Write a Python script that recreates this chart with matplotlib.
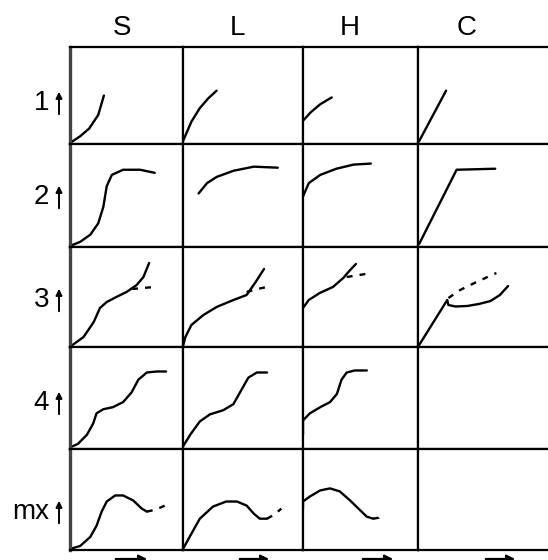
import matplotlib.pyplot as plt
from matplotlib.patches import FancyArrowPatch

W, H = 548, 560
fig = plt.figure(figsize=(W / 100, H / 100), dpi=100)
plt.rcParams['font.family'] = ['Liberation Sans', 'DejaVu Sans']

col_titles = ['S', 'L', 'H', 'C']
row_labels = ['1', '2', '3', '4', 'mx']

# grid in image pixels (the C column runs off the right edge)
col_edges = [70, 183, 303, 418, 566]
row_edges = [47, 144, 247, 347, 449, 550]
col_unit = [11.3, 12.0, 11.5, 11.7]   # px per x unit, y is 0..10 per row

# curves, (x, y) in cell units
s1 = ([0, 0.9, 1.7, 2.5, 3.0], [0.1, 0.8, 1.6, 3.0, 5.0])
l1 = ([0, 0.7, 1.4, 2.1, 2.8], [0.3, 2.3, 3.7, 4.7, 5.5])
h1 = ([0, 0.7, 1.5, 2.5], [2.4, 3.3, 4.1, 4.8])
c1 = ([0.1, 2.4], [0.3, 5.5])

s2 = ([0, 0.9, 1.8, 2.5, 2.95, 3.25, 3.7, 4.7, 6.2, 7.5],
      [0.1, 0.5, 1.2, 2.3, 3.9, 5.9, 7.0, 7.5, 7.5, 7.2])
l2 = ([1.3, 2.0, 2.8, 4.2, 5.9, 7.9], [5.2, 6.2, 6.8, 7.4, 7.8, 7.7])
h2 = ([0, 0.5, 1.5, 2.9, 4.4, 5.9], [4.9, 6.2, 7.0, 7.6, 8.0, 8.1])
c2 = ([0.1, 3.3, 6.6], [0.3, 7.5, 7.6])

s3 = ([0.1, 1.2, 2.1, 2.65, 3.25, 4.1, 5.0, 5.9, 6.5, 7.0],
      [0.1, 1.0, 2.5, 3.9, 4.5, 5.0, 5.5, 6.2, 7.0, 8.4])
s3_dash = ([5.5, 6.5, 7.4], [5.8, 5.9, 6.0])
l3 = ([0, 0.2, 0.7, 1.7, 2.8, 4.2, 5.3, 6.0, 6.75],
      [0.1, 1.0, 2.2, 3.2, 4.0, 4.7, 5.2, 6.4, 7.8])
l3_dash = ([5.3, 6.2, 7.0], [5.5, 5.8, 6.0])
h3 = ([0, 0.5, 1.45, 2.6, 3.5, 4.1, 4.6], [3.9, 4.7, 5.4, 6.0, 6.9, 7.7, 8.3])
h3_dash = ([3.8, 4.9, 6.0], [7.0, 7.2, 7.4])
c3 = ([0.1, 2.5, 2.6, 3.2, 4.2, 5.2, 6.2, 7.0, 7.7],
      [0.2, 4.7, 4.2, 4.05, 4.1, 4.3, 4.6, 5.2, 6.1])
c3_dash = ([2.6, 3.6, 5.0, 6.7], [4.9, 5.7, 6.5, 7.4])

s4 = ([0, 0.7, 1.5, 2.05, 2.35, 2.95, 3.8, 4.7, 5.45, 6.05, 6.8, 7.7, 8.5],
      [0.15, 0.5, 1.4, 2.5, 3.5, 3.9, 4.1, 4.6, 5.55, 6.8, 7.5, 7.6, 7.6])
l4 = ([0, 0.6, 1.4, 2.25, 3.35, 4.2, 4.75, 5.45, 6.15, 7.0],
      [0.25, 1.4, 2.7, 3.4, 3.8, 4.4, 5.55, 7.0, 7.5, 7.5])
h4 = ([0, 0, 0.6, 1.5, 2.35, 2.95, 3.35, 3.8, 4.5, 5.55],
      [1.4, 2.8, 3.5, 4.1, 4.6, 5.4, 6.8, 7.5, 7.7, 7.7])

s5 = ([0, 0.9, 1.8, 2.35, 2.8, 3.25, 4.0, 4.7, 5.6, 6.35, 6.8],
      [0.1, 0.4, 1.3, 2.4, 3.8, 4.8, 5.4, 5.4, 4.9, 4.1, 3.8])
s5_dash = ([6.8, 7.6, 8.5], [3.8, 4.0, 4.45])
l5 = ([0, 0.6, 1.4, 2.5, 3.6, 4.5, 5.3, 5.9, 6.4, 7.0],
      [0.1, 1.4, 3.1, 4.3, 4.8, 4.8, 4.4, 3.6, 3.1, 3.1])
l5_dash = ([7.0, 7.6, 8.2], [3.1, 3.5, 4.1])
h5 = ([0, 0, 0.6, 1.5, 2.35, 3.2, 4.1, 5.0, 5.55, 6.1],
      [4.1, 4.8, 5.3, 5.9, 6.1, 5.8, 4.9, 3.9, 3.3, 3.1])
h5_dash = ([6.1, 6.6, 7.0], [3.1, 3.2, 3.6])

solid = {(0, 0): [s1], (0, 1): [l1], (0, 2): [h1], (0, 3): [c1],
         (1, 0): [s2], (1, 1): [l2], (1, 2): [h2], (1, 3): [c2],
         (2, 0): [s3], (2, 1): [l3], (2, 2): [h3], (2, 3): [c3],
         (3, 0): [s4], (3, 1): [l4], (3, 2): [h4],
         (4, 0): [s5], (4, 1): [l5], (4, 2): [h5]}
dashed = {(2, 0): [s3_dash], (2, 1): [l3_dash], (2, 2): [h3_dash],
          (2, 3): [c3_dash],
          (4, 0): [s5_dash], (4, 1): [l5_dash], (4, 2): [h5_dash]}

for r in range(5):
    for c in range(4):
        x0, x1 = col_edges[c], col_edges[c + 1]
        y0, y1 = row_edges[r], row_edges[r + 1]
        ax = fig.add_axes([x0 / W, 1 - y1 / H, (x1 - x0) / W, (y1 - y0) / H])
        ax.set_xlim(0, (x1 - x0) / col_unit[c])
        ax.set_ylim(0, 10)
        ax.set_xticks([])
        ax.set_yticks([])
        for sp in ax.spines.values():
            sp.set_linewidth(1.6)
        if c == 0:
            ax.spines['left'].set_linewidth(2.4)
            ax.spines['left'].set_color('#444444')
        for xs, ys in solid.get((r, c), []):
            ax.plot(xs, ys, color='black', lw=1.7, solid_capstyle='round')
        for xs, ys in dashed.get((r, c), []):
            ax.plot(xs, ys, color='black', lw=1.7, ls=(0, (2.5, 3)))

# column titles
title_x = [122, 237, 350, 467]
for t, x in zip(col_titles, title_x):
    fig.text(x / W, 1 - 28 / H, t, ha='center', va='center', fontsize=20)

# row labels with small up arrows
label_y = [103, 197, 300, 403, 512]
for t, y in zip(row_labels, label_y):
    fig.text(49 / W, 1 - y / H, t, ha='right', va='center', fontsize=20)
    fig.add_artist(FancyArrowPatch((59 / W, 1 - (y + 14) / H),
                                   (59 / W, 1 - (y - 14) / H),
                                   transform=fig.transFigure,
                                   arrowstyle='-|>', mutation_scale=9,
                                   lw=1.4, color='black'))

# x arrows under each column, cut off by the bottom edge
arrow_x = [(113, 150), (237, 272), (360, 396), (483, 518)]
for a, b in arrow_x:
    fig.add_artist(FancyArrowPatch((a / W, 1 / H), (b / W, 1 / H),
                                   transform=fig.transFigure,
                                   arrowstyle='-|>', mutation_scale=12,
                                   lw=1.6, color='black'))

fig.savefig('out.png', dpi=100)
